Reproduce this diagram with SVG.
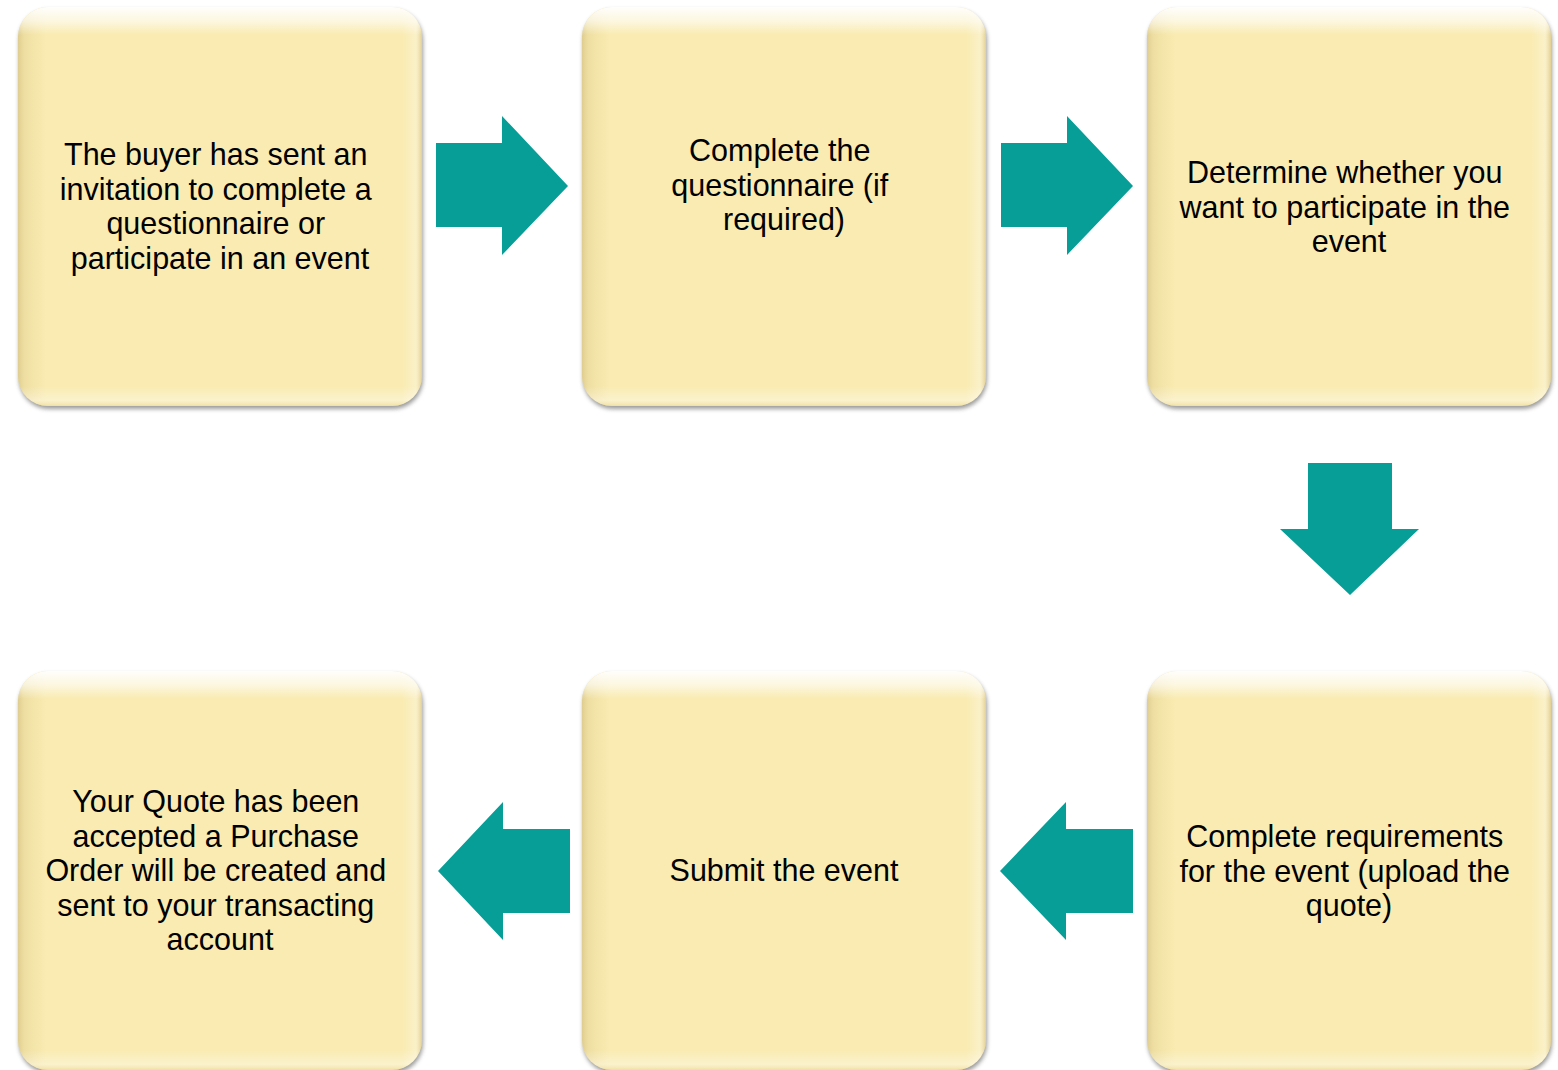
<svg xmlns="http://www.w3.org/2000/svg" width="1558" height="1070" viewBox="0 0 1558 1070">
  <style>
    .label { font-family: "Liberation Sans", Arial, sans-serif; font-size: 30.5px; fill: #000; text-anchor: middle; }
    .arrow { fill: #079E98; }
  </style>
  <defs>
    <!-- soft drop shadow under each card -->
    <filter id="shadow" x="-10%" y="-10%" width="120%" height="125%">
      <feGaussianBlur stdDeviation="2"/>
    </filter>
    <!-- glossy top edge of the bevel -->
    <linearGradient id="topHi" x1="0" y1="0" x2="0" y2="1">
      <stop offset="0" stop-color="#FFFFFF" stop-opacity="0.95"/>
      <stop offset="0.035" stop-color="#FFFFFF" stop-opacity="0.6"/>
      <stop offset="0.07" stop-color="#FFFFFF" stop-opacity="0"/>
      <stop offset="0.95" stop-color="#FFFFFF" stop-opacity="0"/>
      <stop offset="0.985" stop-color="#FFFFFF" stop-opacity="0.35"/>
      <stop offset="1" stop-color="#E8D894" stop-opacity="0.6"/>
    </linearGradient>
    <!-- shaded left wall, lighter right wall -->
    <linearGradient id="sides" x1="0" y1="0" x2="1" y2="0">
      <stop offset="0" stop-color="#C9B472" stop-opacity="0.55"/>
      <stop offset="0.015" stop-color="#D9C583" stop-opacity="0.35"/>
      <stop offset="0.07" stop-color="#E6D494" stop-opacity="0"/>
      <stop offset="0.95" stop-color="#FFFFFF" stop-opacity="0"/>
      <stop offset="0.985" stop-color="#FFFFFF" stop-opacity="0.3"/>
      <stop offset="1" stop-color="#C9B472" stop-opacity="0.5"/>
    </linearGradient>
    <!-- one bevelled card, 404 x 399 -->
    <g id="card">
      <rect x="1" y="3" width="404" height="399" rx="30" fill="#4A4A4A" opacity="0.55" filter="url(#shadow)"/>
      <rect x="0" y="0" width="404" height="399" rx="30" fill="#F9EBB1"/>
      <rect x="0" y="0" width="404" height="399" rx="30" fill="url(#sides)"/>
      <rect x="0" y="0" width="404" height="399" rx="30" fill="url(#topHi)"/>
    </g>
  </defs>

  <rect width="1558" height="1070" fill="#FFFFFF"/>

  <!-- block arrows between the steps -->
  <g id="connectors">
    <polygon class="arrow" points="436,143 502,143 502,116 568,186 502,255 502,227 436,227"/>
    <polygon class="arrow" points="1001,143 1067,143 1067,116 1133,186 1067,255 1067,227 1001,227"/>
    <polygon class="arrow" points="1308,463 1392,463 1392,529 1419,529 1350,595 1280,529 1308,529"/>
    <polygon class="arrow" points="1133,829 1066,829 1066,802 1000,871 1066,940 1066,913 1133,913"/>
    <polygon class="arrow" points="570,829 503,829 503,802 438,871 503,940 503,913 570,913"/>
  </g>

  <g id="step1">
    <use href="#card" x="18" y="7"/>
    <text class="label">
      <tspan x="220" y="165">The buyer has sent an</tspan>
      <tspan x="220" y="199.5">invitation to complete a</tspan>
      <tspan x="220" y="234">questionnaire or</tspan>
      <tspan x="220" y="268.5">participate in an event</tspan>
    </text>
  </g>

  <g id="step2">
    <use href="#card" x="582" y="7"/>
    <text class="label">
      <tspan x="784" y="161">Complete the</tspan>
      <tspan x="784" y="195.5">questionnaire (if</tspan>
      <tspan x="784" y="230">required)</tspan>
    </text>
  </g>

  <g id="step3">
    <use href="#card" x="1147" y="7"/>
    <text class="label">
      <tspan x="1349" y="183">Determine whether you</tspan>
      <tspan x="1349" y="217.5">want to participate in the</tspan>
      <tspan x="1349" y="252">event</tspan>
    </text>
  </g>

  <g id="step4">
    <use href="#card" x="1147" y="671"/>
    <text class="label">
      <tspan x="1349" y="847">Complete requirements</tspan>
      <tspan x="1349" y="881.5">for the event (upload the</tspan>
      <tspan x="1349" y="916">quote)</tspan>
    </text>
  </g>

  <g id="step5">
    <use href="#card" x="582" y="671"/>
    <text class="label">
      <tspan x="784" y="881">Submit the event</tspan>
    </text>
  </g>

  <g id="step6">
    <use href="#card" x="18" y="671"/>
    <text class="label">
      <tspan x="220" y="812">Your Quote has been</tspan>
      <tspan x="220" y="846.5">accepted a Purchase</tspan>
      <tspan x="220" y="881">Order will be created and</tspan>
      <tspan x="220" y="915.5">sent to your transacting</tspan>
      <tspan x="220" y="950">account</tspan>
    </text>
  </g>
</svg>
